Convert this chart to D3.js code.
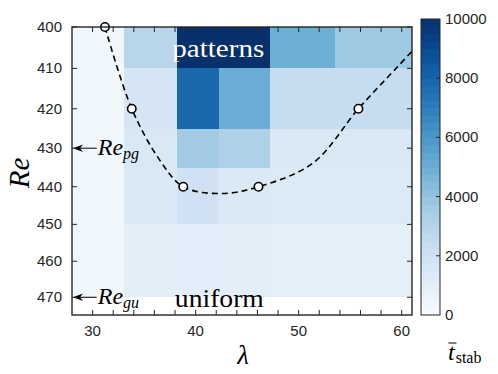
<!DOCTYPE html>
<html>
<head>
<meta charset="utf-8">
<script src="https://cdn.jsdelivr.net/npm/d3@7"></script>
<style>
  body { margin: 0; background: #fff; }
  svg { display: block; }
  .tick-label { font-family: "Liberation Sans", Arial, sans-serif; font-size: 15px; fill: #262626; }
  .tex { font-family: "Liberation Serif", "Times New Roman", serif; }
</style>
</head>
<body>
<svg id="chart" width="498" height="374"></svg>
<script>
// Cell edges of the stability map (wavelength lambda, Reynolds number)
var lambda_edges = [28, 33, 38.18, 42.22, 47.22, 53.57, 61];
var re_edges = [400, 410, 425, 435, 450, 470];
// Mean stability time, one row per Re band (top to bottom)
var t_stab = [
    [350, 2900, 10000, 10000, 5000, 3700],
    [350, 1700, 7900, 5100, 2400, 2400],
    [350, 1500, 3600, 3200, 1500, 1500],
    [350, 1400, 2000, 1400, 1350, 1350],
    [350, 1000, 1100, 1000, 900, 900]
];
// Dashed boundary between patterns and uniform turbulence
var curve_lambda = [31.2, 33.8, 36.5, 38.8, 42.4, 46.1, 51.4, 55.8, 59.6, 61.5];
var curve_re = [400, 420, 433, 440, 441.8, 440, 433.8, 420, 409.6, 404.5];
// Measured points on the boundary
var point_lambda = [31.2, 33.8, 38.8, 46.1, 55.8];
var point_re = [400, 420, 440, 440, 420];
// Axis ticks
var x_ticks = [30, 40, 50, 60];
var x_minor = d3.range(30, 61, 2);
var y_ticks = [400, 410, 420, 430, 440, 450, 460, 470];
var cbar_ticks = [0, 2000, 4000, 6000, 8000, 10000];
// Reference Reynolds numbers marked with arrows
var ref_re = [430, 470];
var ref_sub = ['pg', 'gu'];

var svg = d3.select('#chart');
var x = d3.scaleLinear().domain([28, 61]).range([72, 412]);
var y = d3.scaleLog().domain([400, 475]).range([27, 315]);
var color = d3.scaleSequential(d3.interpolateBlues).domain([0, 10000]);
var axis_color = '#262626';

// Heatmap cells
var cells = [];
t_stab.forEach(function (row, i) {
    row.forEach(function (v, j) {
        cells.push({ i: i, j: j, v: v });
    });
});
svg.append('g').selectAll('rect').data(cells).enter().append('rect')
    .attr('x', function (d) { return x(lambda_edges[d.j]); })
    .attr('y', function (d) { return y(re_edges[d.i]); })
    .attr('width', function (d) { return x(lambda_edges[d.j + 1]) - x(lambda_edges[d.j]); })
    .attr('height', function (d) { return y(re_edges[d.i + 1]) - y(re_edges[d.i]); })
    .attr('fill', function (d) { return color(d.v); })
    .attr('shape-rendering', 'crispEdges');

// Region labels
svg.append('text').attr('class', 'tex')
    .attr('x', x(42.2)).attr('y', 57)
    .attr('text-anchor', 'middle')
    .attr('font-size', 25).attr('fill', '#fff')
    .attr('textLength', 92).attr('lengthAdjust', 'spacingAndGlyphs')
    .text('patterns');
svg.append('text').attr('class', 'tex')
    .attr('x', x(42.3)).attr('y', 307)
    .attr('text-anchor', 'middle')
    .attr('font-size', 25).attr('fill', '#000')
    .attr('textLength', 89).attr('lengthAdjust', 'spacingAndGlyphs')
    .text('uniform');

// Boundary curve, clipped to the axes box
svg.append('clipPath').attr('id', 'plot-clip').append('rect')
    .attr('x', x(28)).attr('y', y(400))
    .attr('width', x(61) - x(28)).attr('height', y(475) - y(400));
var line = d3.line()
    .x(function (d) { return x(d[0]); })
    .y(function (d) { return y(d[1]); })
    .curve(d3.curveCatmullRom);
svg.append('path')
    .datum(d3.zip(curve_lambda, curve_re))
    .attr('clip-path', 'url(#plot-clip)')
    .attr('d', line)
    .attr('fill', 'none').attr('stroke', '#000')
    .attr('stroke-width', 1.6).attr('stroke-dasharray', '6,4');

// Reference arrows at the left axis
ref_re.forEach(function (re, k) {
    var yy = y(re);
    var tip = x(28) + 1;
    var g = svg.append('g');
    g.append('line')
        .attr('x1', tip + 6).attr('x2', x(30.4))
        .attr('y1', yy).attr('y2', yy)
        .attr('stroke', '#000').attr('stroke-width', 1);
    g.append('path')
        .attr('d', 'M' + tip + ',' + yy + 'L' + (tip + 10) + ',' + (yy - 3.8) +
            'L' + (tip + 7) + ',' + yy + 'L' + (tip + 10) + ',' + (yy + 3.8) + 'Z')
        .attr('fill', '#000');
    var t = g.append('text').attr('class', 'tex')
        .attr('x', x(30.5)).attr('y', yy + 7)
        .attr('font-size', 24).attr('font-style', 'italic');
    t.append('tspan').text('Re');
    t.append('tspan').attr('font-size', 16).attr('dy', 4).text(ref_sub[k]);
});

// Circles on top of the curve
svg.append('g').selectAll('circle').data(d3.zip(point_lambda, point_re)).enter()
    .append('circle')
    .attr('cx', function (d) { return x(d[0]); })
    .attr('cy', function (d) { return y(d[1]); })
    .attr('r', 4.2)
    .attr('fill', '#fff').attr('stroke', '#000').attr('stroke-width', 1.6);

// Axes box with inward ticks on all sides
var axes = svg.append('g').attr('stroke', axis_color).attr('stroke-width', 1);
axes.selectAll('.xt').data(x_minor).enter().append('path')
    .attr('d', function (d) {
        return 'M' + x(d) + ',' + y(475) + 'v-5M' + x(d) + ',' + y(400) + 'v5';
    });
axes.selectAll('.yt').data(y_ticks).enter().append('path')
    .attr('d', function (d) {
        return 'M' + x(28) + ',' + y(d) + 'h5M' + x(61) + ',' + y(d) + 'h-5';
    });
svg.append('rect')
    .attr('x', x(28)).attr('y', y(400))
    .attr('width', x(61) - x(28)).attr('height', y(475) - y(400))
    .attr('fill', 'none').attr('stroke', axis_color).attr('stroke-width', 1.4);

svg.append('g').selectAll('text').data(x_ticks).enter().append('text')
    .attr('class', 'tick-label')
    .attr('x', function (d) { return x(d); })
    .attr('y', 336)
    .attr('text-anchor', 'middle')
    .text(function (d) { return d; });
svg.append('g').selectAll('text').data(y_ticks).enter().append('text')
    .attr('class', 'tick-label')
    .attr('x', 62)
    .attr('y', function (d) { return y(d) + 5; })
    .attr('text-anchor', 'end')
    .text(function (d) { return d; });

// Axis labels
svg.append('text').attr('class', 'tex')
    .attr('transform', 'translate(29,173) rotate(-90)')
    .attr('text-anchor', 'middle')
    .attr('font-size', 29).attr('font-style', 'italic')
    .text('Re');
svg.append('text').attr('class', 'tex')
    .attr('x', 243).attr('y', 364)
    .attr('text-anchor', 'middle')
    .attr('font-size', 27).attr('font-style', 'italic')
    .text('λ');

// Colorbar drawn as discrete colour steps
var cb_x = 421, cb_w = 19;
var cb = d3.scaleLinear().domain([0, 10000]).range([315, 19]);
var steps = d3.range(0, 10000, 250);
svg.append('g').selectAll('rect').data(steps).enter().append('rect')
    .attr('x', cb_x)
    .attr('y', function (d) { return cb(d + 250); })
    .attr('width', cb_w)
    .attr('height', function (d) { return cb(d) - cb(d + 250) + 0.5; })
    .attr('fill', function (d) { return color(d + 125); })
    .attr('shape-rendering', 'crispEdges');
svg.append('rect')
    .attr('x', cb_x).attr('y', cb(10000))
    .attr('width', cb_w).attr('height', cb(0) - cb(10000))
    .attr('fill', 'none').attr('stroke', axis_color).attr('stroke-width', 1);
svg.append('g').selectAll('path').data(cbar_ticks.slice(1, -1)).enter().append('path')
    .attr('d', function (d) { return 'M' + (cb_x + cb_w) + ',' + cb(d) + 'h-4'; })
    .attr('stroke', axis_color);
svg.append('g').selectAll('text').data(cbar_ticks).enter().append('text')
    .attr('class', 'tick-label')
    .attr('x', 445)
    .attr('y', function (d) { return cb(d) + 5; })
    .text(function (d) { return d; });

// Colorbar title: t-bar with subscript "stab"
var title = svg.append('text').attr('class', 'tex').attr('x', 448).attr('y', 360);
title.append('tspan').attr('font-size', 24).attr('font-style', 'italic').text('t');
title.append('tspan').attr('font-size', 16).attr('dx', 1).attr('dy', 3).text('stab');
svg.append('line')
    .attr('x1', 448.5).attr('x2', 456.5).attr('y1', 343).attr('y2', 343)
    .attr('stroke', '#000').attr('stroke-width', 1);
</script>
</body>
</html>
